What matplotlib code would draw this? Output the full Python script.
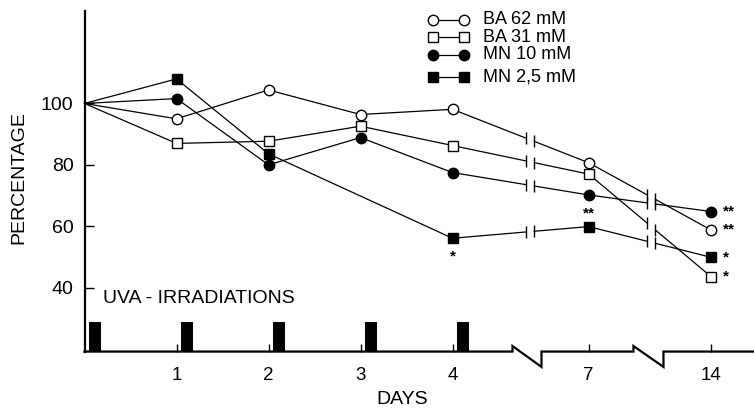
import numpy as np
import matplotlib.pyplot as plt
from matplotlib.lines import Line2D

plt.rcParams['font.family'] = ['Liberation Sans', 'DejaVu Sans']

# values (percentage of day 0)
DAYS = [0, 1, 2, 3, 4, 7, 14]
BA_62 = [100, 95.0, 104.4, 96.4, 98.1, 80.7, 58.8]
BA_31 = [100, 87.0, 87.7, 92.6, 86.3, 77.0, 43.6]
MN_10 = [100, 101.6, 80.0, 88.9, 77.5, 70.2, 64.8]
MN_25 = [100, 108.0, 83.6, np.nan, 56.1, 59.9, 49.9]
LABELS = ["BA 62 mM", "BA 31 mM", "MN 10 mM", "MN 2,5 mM"]
UVA_DAYS = [0, 1, 2, 3, 4]
# significance marks: (series index, day, text)
STARS = [(3, 4, "*"), (2, 7, "**"), (2, 14, "**"), (0, 14, "**"),
         (3, 14, "*"), (1, 14, "*")]

# broken day axis: 0-4 linear, then compressed for 7 and 14
DAY_POS = {0: 0, 1: 1, 2: 2, 3: 3, 4: 4, 7: 5.48, 14: 6.81}
BREAKS = [4.84, 6.16]
BASE = 19.2
STYLES = [("o", "white"), ("s", "white"), ("o", "black"), ("s", "black")]

fig = plt.figure(figsize=(7.54, 4.09), dpi=100)
ax = fig.add_axes([84.5 / 754, 0, 1 - 84.5 / 754, 1])
ax.set_xlim(0, 7.277)
ax.set_ylim(0.49, 133.7)

series = [BA_62, BA_31, MN_10, MN_25]
xpos = np.array([DAY_POS[d] for d in DAYS], float)
gap = 0.042
for vals, (mk, fc) in zip(series, STYLES):
    y = np.array(vals, float)
    ok = ~np.isnan(y)
    xs, ys = xpos[ok], y[ok]
    # no marker on day 0, the lines just meet on the axis
    ax.plot(xs, ys, color="black", lw=0.9, marker=mk, ms=7.5, mfc=fc,
            mec="black", mew=1, zorder=3, clip_on=False,
            markevery=slice(1, None))
    for bx in BREAKS:
        bxs = [bx - gap, bx + gap]
        bys = np.interp(bxs, xs, ys)
        ax.plot(bxs, bys, color="white", lw=3, zorder=3.5, solid_capstyle="butt")
        ax.plot(bxs, bys, ls="none", marker="|", ms=9, mew=1, color="black",
                zorder=4)

for si, day, txt in STARS:
    yv = series[si][DAYS.index(day)]
    if day == 14:
        ax.annotate(txt, (DAY_POS[day], yv), xytext=(8.6, 0),
                    textcoords="offset points", ha="left", va="center",
                    fontsize=11, fontweight="bold")
    else:
        ax.annotate(txt, (DAY_POS[day], yv), xytext=(0, -13),
                    textcoords="offset points", ha="center", va="center",
                    fontsize=11, fontweight="bold")

# UVA irradiation bars
ax.bar([DAY_POS[d] + 0.115 for d in UVA_DAYS], 9.5, width=0.125, bottom=BASE,
       color="black", zorder=2)
ax.text(0.2, 36.5, "UVA - IRRADIATIONS", fontsize=14, va="center", ha="left")

# axis with breaks
zx = [0, 4.652, 4.652, 4.967, 4.967, 5.967, 5.967, 6.293, 6.293, 7.277]
zy = [BASE, BASE, BASE + 1.8, BASE - 5, BASE, BASE, BASE + 1.8, BASE - 5,
      BASE, BASE]
ax.plot(zx, zy, color="black", lw=1.6, clip_on=False, zorder=2,
        solid_joinstyle="miter")

for s in ["top", "right"]:
    ax.spines[s].set_visible(False)
ax.spines["left"].set_bounds(BASE, 130)
ax.spines["left"].set_linewidth(1.6)
ax.spines["bottom"].set_position(("data", BASE))
ax.spines["bottom"].set_color("none")

ax.set_yticks([40, 60, 80, 100])
ax.set_xticks([DAY_POS[d] for d in DAYS[1:]])
ax.set_xticklabels([str(d) for d in DAYS[1:]])
ax.tick_params(axis="y", direction="in", length=6.5, width=1, pad=8,
               labelsize=14)
ax.tick_params(axis="x", direction="in", length=5.8, width=1, pad=11,
               labelsize=13.5)
ax.patch.set_alpha(0)

fig.text(402 / 754, 1 - 399 / 409, "DAYS", ha="center", va="center",
         fontsize=14)
fig.text(19 / 754, 1 - 178 / 409, "PERCENTAGE", ha="center", va="center",
         rotation=90, fontsize=14)

# legend drawn by hand, markers on both ends
rows = [20, 37, 54.5, 77]
for py, (mk, fc), lab in zip(rows, STYLES, LABELS):
    yf = 1 - py / 409
    fig.add_artist(Line2D([433 / 754, 464 / 754], [yf, yf], color="black",
                          lw=0.9, marker=mk, ms=7.5, mfc=fc, mec="black",
                          mew=1))
    fig.text(483 / 754, yf, lab, ha="left", va="center", fontsize=13)

fig.savefig("out.png", dpi=100)
